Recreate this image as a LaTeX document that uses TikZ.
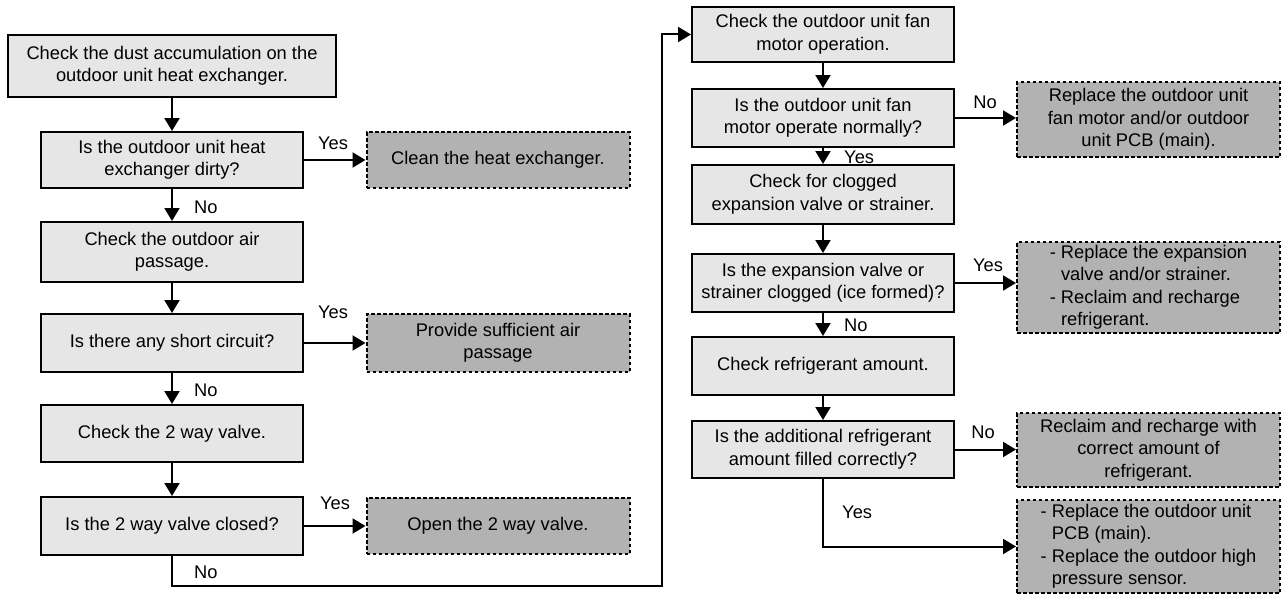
\documentclass[tikz,border=0pt]{standalone}
\usepackage{fontspec}
\setmainfont{Liberation Sans}
\usetikzlibrary{arrows.meta,calc}
\definecolor{boxgray}{RGB}{230,230,230}
\definecolor{actgray}{RGB}{178,178,178}
\newcommand{\myfs}{\fontsize{18.3}{22.5}\selectfont}
\begin{document}
\begin{tikzpicture}[x=1pt,y=-1pt,
  box/.style={draw=black, line width=2pt, fill=boxgray, minimum width=262pt, align=center, inner sep=2pt, font=\myfs},
  act/.style={draw=black, line width=2pt, dash pattern=on 3.5pt off 2.5pt, fill=actgray, minimum width=263pt, align=center, inner sep=2pt, font=\myfs},
  arr/.style={line width=2pt, -{Triangle[length=13pt,width=15pt]}},
  lbl/.style={font=\myfs, inner sep=0pt}]
\useasboundingbox (0,0) rectangle (1284,594);
% left column
\node[box, minimum width=328pt, minimum height=62pt] (b1) at (172,66) {Check the dust accumulation on the\\outdoor unit heat exchanger.};
\node[box, minimum height=56pt] (b2) at (172,160) {Is the outdoor unit heat\\exchanger dirty?};
\node[act, minimum height=56pt] (c1) at (498,160) {Clean the heat exchanger.};
\node[box, minimum height=60pt] (b3) at (172,252) {Check the outdoor air\\passage.};
\node[box, minimum height=58pt] (b4) at (172,343) {Is there any short circuit?};
\node[act, minimum height=58pt] (c2) at (498,343) {Provide sufficient air\\passage};
\node[box, minimum height=57pt] (b5) at (172,433.5) {Check the 2 way valve.};
\node[box, minimum height=58pt] (b6) at (172,526) {Is the 2 way valve closed?};
\node[act, minimum height=56pt] (c3) at (498,526) {Open the 2 way valve.};
% right column
\node[box, minimum height=55pt] (r1) at (823,34.5) {Check the outdoor unit fan\\motor operation.};
\node[box, minimum height=58pt] (r2) at (823,118) {Is the outdoor unit fan\\motor operate normally?};
\node[act, minimum height=75pt] (d1) at (1148.5,119.5) {Replace the outdoor unit\\fan motor and/or outdoor\\unit PCB (main).};
\node[box, minimum height=59pt] (r3) at (823,194.5) {Check for clogged\\expansion valve or strainer.};
\node[box, minimum height=58pt] (r4) at (823,283) {Is the expansion valve or\\strainer clogged (ice formed)?};
\node[act, minimum height=91pt, align=left] (d2) at (1148.5,287.5) {- Replace the expansion\\\phantom{- }valve and/or strainer.\\- Reclaim and recharge\\\phantom{- }refrigerant.};
\node[box, minimum height=58pt] (r5) at (823,366) {Check refrigerant amount.};
\node[box, minimum height=57pt] (r6) at (823,449.5) {Is the additional refrigerant\\amount filled correctly?};
\node[act, minimum height=74pt] (d3) at (1148.5,450) {Reclaim and recharge with\\correct amount of\\refrigerant.};
\node[act, minimum height=93pt, align=left] (d4) at (1148.5,546.5) {- Replace the outdoor unit\\\phantom{- }PCB (main).\\- Replace the outdoor high\\\phantom{- }pressure sensor.};
% connectors left
\draw[arr] (b1) -- (b2);
\draw[arr] (b2) -- (c1);
\draw[arr] (b2) -- (b3);
\draw[arr] (b3) -- (b4);
\draw[arr] (b4) -- (c2);
\draw[arr] (b4) -- (b5);
\draw[arr] (b5) -- (b6);
\draw[arr] (b6) -- (c3);
\coordinate (turn) at (662,586);
\draw[arr] (b6.south) |- (turn) |- (r1.west);
% connectors right
\draw[arr] (r1) -- (r2);
\draw[arr] (r2.east) -- (r2.east -| d1.west);
\draw[arr] (r2) -- (r3);
\draw[arr] (r3) -- (r4);
\draw[arr] (r4.east) -- (r4.east -| d2.west);
\draw[arr] (r4) -- (r5);
\draw[arr] (r5) -- (r6);
\draw[arr] (r6.east) -- (r6.east -| d3.west);
\draw[arr] (r6.south) |- (d4.west);
% labels
\node[lbl] (y1) at (333,143) {Yes};
\node[lbl, anchor=west] (n1) at (194,207) {No};
\node[lbl] (y2) at (333,312) {Yes};
\node[lbl, anchor=west] (n2) at (194,390) {No};
\node[lbl] (y3) at (335,503) {Yes};
\node[lbl, anchor=west] (n3) at (194,572) {No};
\node[lbl] (n4) at (985,102) {No};
\node[lbl, anchor=west] (y4) at (844,157) {Yes};
\node[lbl] (y5) at (988,265) {Yes};
\node[lbl, anchor=west] (n5) at (844,325) {No};
\node[lbl] (n6) at (983,432) {No};
\node[lbl, anchor=west] (y6) at (842,512) {Yes};
\end{tikzpicture}
\end{document}
